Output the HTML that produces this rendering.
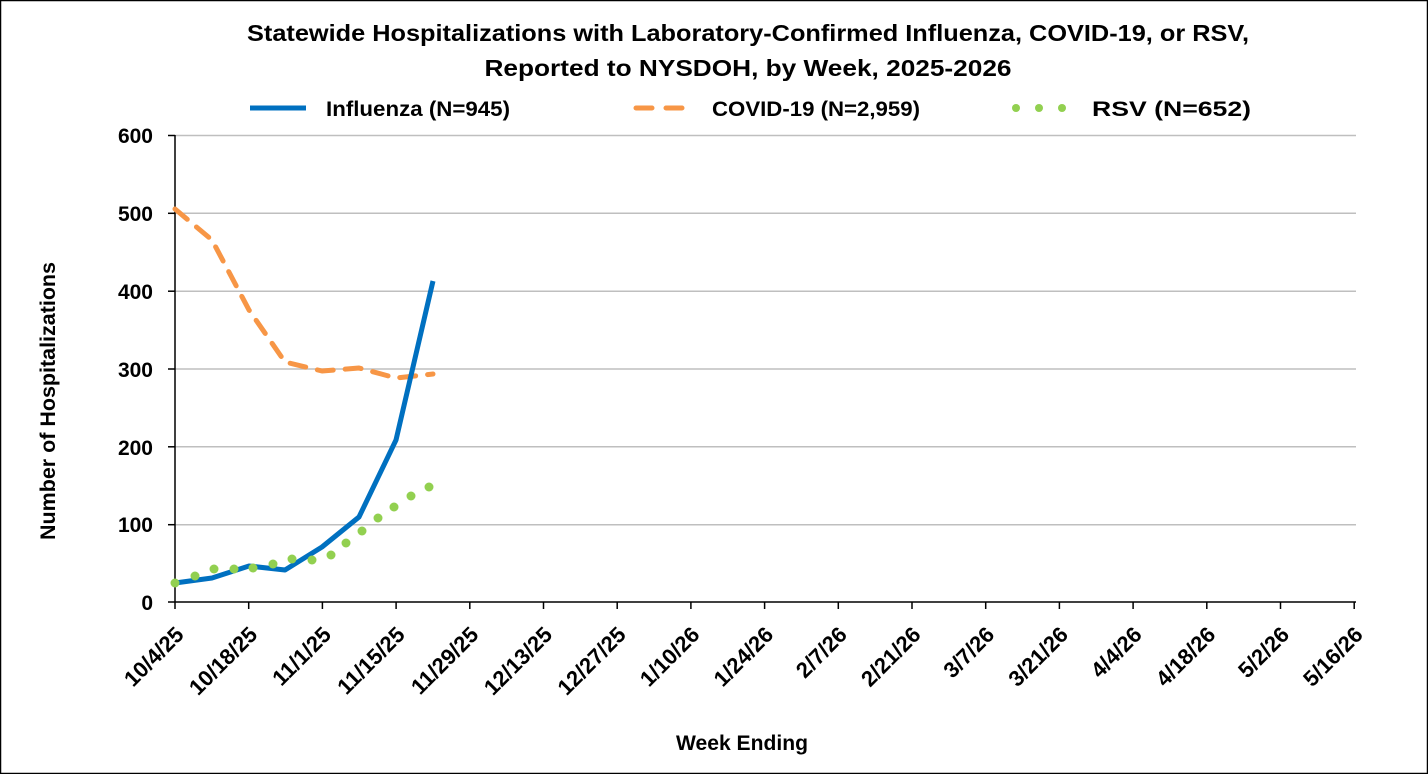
<!DOCTYPE html>
<html><head><style>
html,body{margin:0;padding:0;background:#fff;}
svg{display:block;}
text{font-family:"Liberation Sans",Arial,sans-serif;font-weight:bold;fill:#000;}
</style></head><body>
<svg width="1428" height="774" viewBox="0 0 1428 774" xmlns="http://www.w3.org/2000/svg">
<rect x="0.5" y="0.5" width="1427" height="773" fill="#fff" stroke="#000" stroke-width="1.5"/>
<text x="748" y="41" font-size="23" text-anchor="middle" textLength="1002" lengthAdjust="spacingAndGlyphs">Statewide Hospitalizations with Laboratory-Confirmed Influenza, COVID-19, or RSV,</text>
<text x="748" y="76" font-size="23" text-anchor="middle" textLength="527" lengthAdjust="spacingAndGlyphs">Reported to NYSDOH, by Week, 2025-2026</text>
<line x1="250" y1="108" x2="306" y2="108" stroke="#0070C0" stroke-width="5"/>
<text x="326" y="116" font-size="21" textLength="184" lengthAdjust="spacingAndGlyphs">Influenza (N=945)</text>
<line x1="636" y1="108" x2="692" y2="108" stroke="#F79646" stroke-width="5" stroke-dasharray="16,14" stroke-linecap="round"/>
<text x="712" y="116" font-size="21" textLength="208" lengthAdjust="spacingAndGlyphs">COVID-19 (N=2,959)</text>
<circle cx="1016" cy="108" r="4" fill="#92D050"/><circle cx="1039" cy="108" r="4" fill="#92D050"/><circle cx="1062" cy="108" r="4" fill="#92D050"/>
<text x="1092" y="116" font-size="21" textLength="159" lengthAdjust="spacingAndGlyphs">RSV (N=652)</text>
<g stroke="#bfbfbf" stroke-width="1.5">
<line x1="175" y1="135.5" x2="1356" y2="135.5"/>
<line x1="175" y1="213.3" x2="1356" y2="213.3"/>
<line x1="175" y1="291.2" x2="1356" y2="291.2"/>
<line x1="175" y1="369" x2="1356" y2="369"/>
<line x1="175" y1="446.8" x2="1356" y2="446.8"/>
<line x1="175" y1="524.7" x2="1356" y2="524.7"/>
</g>
<g stroke="#000" stroke-width="1.5">
<line x1="175" y1="135" x2="175" y2="602"/>
<line x1="175" y1="602" x2="1356" y2="602"/>
<line x1="168" y1="135.5" x2="175" y2="135.5"/><line x1="168" y1="213.3" x2="175" y2="213.3"/><line x1="168" y1="291.2" x2="175" y2="291.2"/><line x1="168" y1="369" x2="175" y2="369"/><line x1="168" y1="446.8" x2="175" y2="446.8"/><line x1="168" y1="524.7" x2="175" y2="524.7"/><line x1="168" y1="602" x2="175" y2="602"/>
</g>
<g id="xt" stroke="#000" stroke-width="1.5"></g>
<g font-size="21" text-anchor="end">
<text x="153" y="143">600</text><text x="153" y="221">500</text><text x="153" y="299">400</text><text x="153" y="377">300</text><text x="153" y="455">200</text><text x="153" y="532">100</text><text x="153" y="610">0</text>
</g>
<text transform="translate(55,401) rotate(-90)" font-size="21" text-anchor="middle" textLength="278" lengthAdjust="spacingAndGlyphs">Number of Hospitalizations</text>
<text x="742" y="750" font-size="21" text-anchor="middle" textLength="132" lengthAdjust="spacingAndGlyphs">Week Ending</text>
<g id="xl" font-size="22" text-anchor="end"></g>
<polyline fill="none" stroke="#F79646" stroke-width="5" stroke-dasharray="16,12" stroke-linecap="round" stroke-linejoin="round"
 points="175,209 212,240 249,310 285,362 322,371 359,368 396,378 433,374"/>
<polyline fill="none" stroke="#0070C0" stroke-width="5" stroke-linejoin="round"
 points="175,583 212,578 249,566 285,570 322,547 359,517 396,440 433,281"/>
<g fill="#92D050">
<circle cx="175" cy="583" r="4.5"/><circle cx="195" cy="576" r="4.5"/><circle cx="214" cy="569" r="4.5"/><circle cx="234" cy="569" r="4.5"/><circle cx="253" cy="568" r="4.5"/><circle cx="273" cy="564" r="4.5"/><circle cx="292" cy="559" r="4.5"/><circle cx="312" cy="560" r="4.5"/><circle cx="331" cy="555" r="4.5"/><circle cx="346" cy="543" r="4.5"/><circle cx="362" cy="531" r="4.5"/><circle cx="378" cy="518" r="4.5"/><circle cx="394" cy="507" r="4.5"/><circle cx="411" cy="496" r="4.5"/><circle cx="429" cy="487" r="4.5"/>
</g>
</svg>
<script>
var labels=["10/4/25","10/18/25","11/1/25","11/15/25","11/29/25","12/13/25","12/27/25","1/10/26","1/24/26","2/7/26","2/21/26","3/7/26","3/21/26","4/4/26","4/18/26","5/2/26","5/16/26"];
var ns="http://www.w3.org/2000/svg",xt=document.getElementById("xt"),xl=document.getElementById("xl");
for(var i=0;i<labels.length;i++){var x=175+i*73.7;
var l=document.createElementNS(ns,"line");l.setAttribute("x1",x);l.setAttribute("x2",x);l.setAttribute("y1",602);l.setAttribute("y2",609);xt.appendChild(l);
var t=document.createElementNS(ns,"text");t.setAttribute("transform","translate("+(x+10)+",636) rotate(-45)");t.textContent=labels[i];xl.appendChild(t);}
</script>
</body></html>
